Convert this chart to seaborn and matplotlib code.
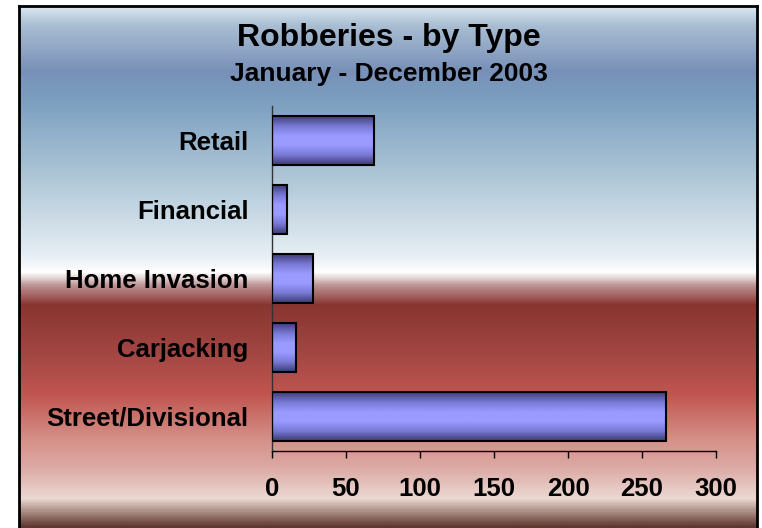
"""
Robberies by type, Jan - Dec 2003: horizontal bar chart on a banded
blue / white / red background.
"""
import numpy as np
import matplotlib
matplotlib.use("Agg")
import matplotlib.pyplot as plt
import seaborn as sns
from matplotlib.colors import LinearSegmentedColormap

CATEGORIES = ["Retail", "Financial", "Home Invasion", "Carjacking", "Street/Divisional"]
COUNTS = [69, 10, 28, 16, 266]
X_TICKS = [0, 50, 100, 150, 200, 250, 300]
TITLE = "Robberies - by Type"
SUBTITLE = "January - December 2003"

W, H = 762, 528

sns.set_style("white")
plt.rcParams["font.family"] = ["Liberation Sans", "DejaVu Sans"]
plt.rcParams["font.weight"] = "bold"
plt.rcParams["text.color"] = "black"
plt.rcParams["xtick.color"] = "black"
plt.rcParams["ytick.color"] = "black"

fig = plt.figure(figsize=(W / 100, H / 100), dpi=100)
fig.patch.set_facecolor("white")

# background panel with the banded gradient
bg = fig.add_axes([19 / W, 0, (757 - 19) / W, (H - 6) / H])
bg_stops = [
    (0.000, "#d8e6f0"), (0.036, "#a8bdd2"), (0.123, "#7890b8"),
    (0.180, "#7c9fc0"), (0.333, "#b0c8d8"), (0.477, "#e6eef4"),
    (0.511, "#ffffff"), (0.534, "#c09898"), (0.573, "#883530"),
    (0.659, "#a04542"), (0.745, "#c05550"), (0.831, "#d49088"),
    (0.889, "#dcaca6"), (0.946, "#ecd8d2"), (0.975, "#a08078"),
    (1.000, "#603830"),
]
bg_cmap = LinearSegmentedColormap.from_list("bg", bg_stops)
grad = np.linspace(0, 1, 800).reshape(-1, 1)
bg.imshow(grad, cmap=bg_cmap, aspect="auto", extent=[0, 1, 0, 1], origin="upper")
bg.set_xticks([])
bg.set_yticks([])
for side in ["left", "top", "right"]:
    bg.spines[side].set_color("black")
    bg.spines[side].set_linewidth(2)
bg.spines["bottom"].set_visible(False)

fig.text(389 / W, 1 - 46 / H, TITLE, ha="center", va="baseline",
         fontsize=23, fontweight="bold", color="black")
fig.text(389 / W, 1 - 81 / H, SUBTITLE, ha="center", va="baseline",
         fontsize=19, fontweight="bold", color="black")

# main chart
ax = fig.add_axes([272 / W, 77 / H, 444 / W, 345 / H])
ax.patch.set_alpha(0)
sns.barplot(x=COUNTS, y=CATEGORIES, orient="h", ax=ax, width=0.70,
            color="#9898ff", edgecolor="black", linewidth=1.5)

bar_cmap = LinearSegmentedColormap.from_list(
    "bar", ["#40407a", "#7878d4", "#9a9aff", "#9a9aff", "#7878d4", "#3c3c70"])
bar_grad = np.linspace(0, 1, 100).reshape(-1, 1)
for p in ax.patches:
    x0, y0 = p.get_x(), p.get_y()
    w, h = p.get_width(), p.get_height()
    im = ax.imshow(bar_grad, cmap=bar_cmap, aspect="auto",
                   extent=[x0, x0 + w, y0 + h, y0], zorder=2)
    im.set_clip_path(p)
    p.set_facecolor("none")
    p.set_zorder(3)

ax.set_xlim(0, 300)
ax.set_ylim(4.5, -0.5)
ax.set_xticks(X_TICKS)
ax.set_xlabel("")
ax.set_ylabel("")
sns.despine(ax=ax, top=True, right=True)
ax.spines["left"].set_color("#333333")
ax.spines["left"].set_linewidth(1)
ax.spines["bottom"].set_color("black")
ax.spines["bottom"].set_linewidth(1)
ax.tick_params(axis="x", direction="out", length=5, width=1, color="black",
               labelcolor="black", pad=14, labelsize=18.5, bottom=True)
ax.tick_params(axis="y", length=0, pad=17, labelsize=18.5, labelcolor="black")
for lbl in ax.get_xticklabels() + ax.get_yticklabels():
    lbl.set_fontweight("bold")

fig.savefig("out.png", dpi=100)
